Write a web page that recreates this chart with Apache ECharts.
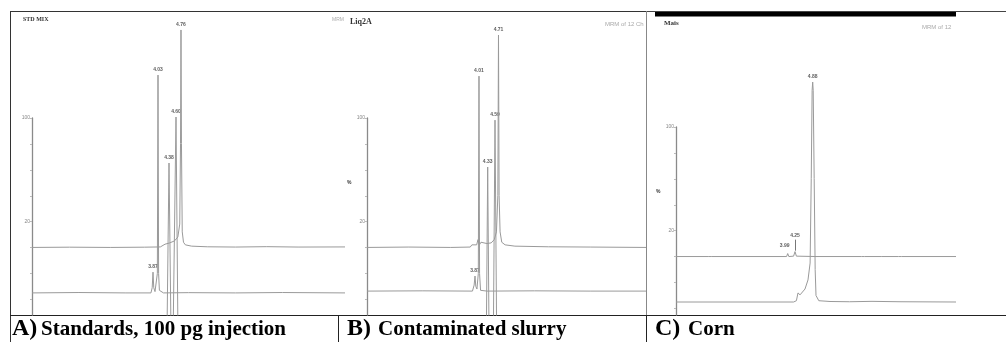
<!DOCTYPE html>
<html>
<head>
<meta charset="utf-8">
<script src="https://cdn.jsdelivr.net/npm/echarts@6/dist/echarts.min.js"></script>
<style>
  html, body { margin: 0; padding: 0; background: #fff; }
  #main { width: 1006px; height: 342px; }
</style>
</head>
<body>
<div id="main"></div>
<script>
// retention time (min) vs relative intensity (%), overlaid traces are offset
// A) STD MIX
var stdUpper = [[0, 0], [1.2, 0.2], [2.5, 0], [3.6, 0.2], [4.1, 0.4], [4.25, 2.5], [4.4, 3.5], [4.55, 5], [4.66, 8],
  [4.72, 18], [4.745, 80], [4.76, 167.4], [4.775, 80], [4.8, 12], [4.84, 4], [4.9, 2], [5.1, 1], [5.6, 0.5],
  [6.5, 0.3], [7.5, 0.6], [8.5, 0.3], [10, 0.4]];
var stdLower = [[0, -35], [1.5, -34.7], [3, -35], [3.8, -35], [3.84, -31], [3.866, -19], [3.89, -31], [3.93, -34],
  [3.98, -33], [4.005, -20], [4.026, 132.7], [4.045, -20], [4.07, -33], [4.2, -35], [5, -34.8], [6.5, -35],
  [8, -34.7], [10, -35]];
var stdThird = [[4, -130], [4.281, -130], [4.377, 65], [4.473, -130], [4.515, -130], [4.601, 100.4], [4.687, -130], [5, -130]];
var stdPeaks = [[4.76, 167.4], [4.026, 132.7], [4.601, 100.4], [4.377, 65], [3.866, -19]];

// B) Liq2A
var liqUpper = [[0, 0], [1.5, 0.3], [3, 0], [3.7, 0.3], [3.76, 2], [3.82, 0.5], [3.93, 2], [3.978, 6], [4.03, 2],
  [4.086, 4], [4.15, 2.5], [4.3, 3], [4.45, 3.5], [4.56, 6], [4.64, 12], [4.69, 40], [4.713, 163.5], [4.735, 40],
  [4.77, 12], [4.83, 4], [4.95, 2], [5.3, 1], [6.5, 0.5], [8, 0.3], [10, 0]];
var liqLower = [[0, -33.6], [2, -33.4], [3.78, -33.6], [3.84, -29], [3.871, -22], [3.9, -30], [3.94, -32], [3.99, -20],
  [4.014, 131.9], [4.035, -20], [4.07, -33], [4.3, -33.6], [6, -33.4], [8, -33.6], [10, -33.6]];
var liqThird = [[4, -130], [4.254, -130], [4.326, 61.9], [4.398, -130], [4.506, -130], [4.588, 98], [4.67, -130], [5, -130]];
var liqPeaks = [[4.713, 163.5], [4.014, 131.9], [4.588, 98], [4.326, 61.9], [3.871, -22]];

// C) Mais
var maisUpper = [[0, 0], [1.15, 0], [1.214, 1.5], [1.28, 0], [3, 0], [3.95, 0], [3.989, 2.3], [4.03, 0], [4.2, 0.3],
  [4.25, 3.8], [4.3, 0.3], [5, 0], [6.62, 0], [6.68, 1.2], [6.74, 0], [7.25, 0], [7.29, 1], [7.35, 0], [7.95, 0],
  [8, 0.8], [8.06, 0], [10, 0]];
var maisLower = [[0, -35], [2, -35], [4.2, -35], [4.3, -34], [4.357, -28], [4.43, -29.5], [4.5, -30.5], [4.607, -25],
  [4.714, -18], [4.79, -5], [4.83, 60], [4.862, 128], [4.882, 134.3], [4.9, 128], [4.935, 60], [4.97, -10],
  [5.0, -30], [5.1, -34], [5.5, -34.6], [6.2, -34.8], [7, -34.5], [8, -34.8], [10, -35]];
var maisPeaks = [[4.882, 134.3], [3.989, 2.3], [4.25, 3.8]];

var axisTicks = [-40, -20, 0, 20, 40, 60, 80, 100];
var axisLabels = [20, 100];

var panelTitles = ['STD MIX', 'Liq2A', 'Mais'];
var captionLetters = ['A)', 'B)', 'C)'];
var captionTexts = ['Standards, 100 pg injection', 'Contaminated slurry', 'Corn'];

var chart = echarts.init(document.getElementById('main'), null, { renderer: 'canvas' });

var traceColor = '#9a9a9a';
var serif = '"Liberation Serif", "DejaVu Serif", serif';
var sans = '"Liberation Sans", Arial, sans-serif';

function dataX(i) {
  return { gridIndex: i, type: 'value', min: 0, max: 10, show: false };
}
function dataY(i, min, max) {
  return { gridIndex: i, type: 'value', min: min, max: max, show: false };
}
function axisY(i, min) {
  return {
    gridIndex: i, type: 'value', min: min, max: 100,
    splitLine: { show: false },
    axisLine: { show: true, lineStyle: { color: '#8a8a8a', width: 1.3 } },
    axisTick: { show: true, length: 2, customValues: axisTicks, lineStyle: { color: '#bbb' } },
    axisLabel: { show: true, customValues: axisLabels, fontSize: 5, color: '#888', margin: 2, fontFamily: sans }
  };
}
function trace(i, data) {
  return {
    type: 'line', xAxisIndex: i, yAxisIndex: i, data: data,
    showSymbol: false, symbol: 'none', clip: true, animation: false,
    lineStyle: { color: traceColor, width: 1 }
  };
}
function peakLabels(i, data) {
  return {
    type: 'scatter', xAxisIndex: i, yAxisIndex: i, data: data,
    symbol: 'circle', symbolSize: 0, animation: false, silent: true,
    label: {
      show: true, position: 'top', distance: 3, fontSize: 5, fontWeight: 'bold',
      color: '#333', fontFamily: sans,
      formatter: function (p) { return p.value[0].toFixed(2); }
    }
  };
}

// corn: the two small peaks are labelled at different heights, the second one with a leader line
var mais = peakLabels(2, maisPeaks.map(function (p, idx) {
  if (idx === 2) return { value: p, label: { distance: 13 } };
  if (idx === 1) return { value: p, label: { distance: 5, offset: [-3, 0] } };
  return p;
}));
var maisUpperSeries = trace(2, maisUpper);
maisUpperSeries.markLine = {
  silent: true, symbol: 'none', animation: false,
  label: { show: false },
  lineStyle: { color: '#777', width: 1, type: 'solid' },
  data: [[{ coord: [4.25, 4.5] }, { coord: [4.25, 13] }]]
};

var option = {
  backgroundColor: '#fff',
  animation: false,
  grid: [
    { left: 32, top: 11, width: 313, height: 304 },
    { left: 367, top: 11, width: 279, height: 304 },
    { left: 676, top: 11, width: 280, height: 304 },
    // y axes drawn in their own grids so they only run up to 100 %
    { left: 32, top: 118, width: 10, height: 197 },
    { left: 367, top: 118, width: 10, height: 197 },
    { left: 676, top: 127, width: 10, height: 188 }
  ],
  xAxis: [dataX(0), dataX(1), dataX(2), dataX(3), dataX(4), dataX(5)],
  yAxis: [dataY(0, -52, 182), dataY(1, -52, 182), dataY(2, -45, 189),
    axisY(3, -52), axisY(4, -52), axisY(5, -45)],
  series: [
    trace(0, stdUpper), trace(0, stdLower), trace(0, stdThird), peakLabels(0, stdPeaks),
    trace(1, liqUpper), trace(1, liqLower), trace(1, liqThird), peakLabels(1, liqPeaks),
    maisUpperSeries, trace(2, maisLower), mais
  ],
  graphic: [
    // frame
    { type: 'line', shape: { x1: 10, y1: 11.5, x2: 646, y2: 11.5 }, style: { stroke: '#333', lineWidth: 1 } },
    { type: 'line', shape: { x1: 646, y1: 11.5, x2: 1006, y2: 11.5 }, style: { stroke: '#444', lineWidth: 1 } },
    { type: 'rect', shape: { x: 655, y: 12, width: 301, height: 4.5 }, style: { fill: '#000' } },
    { type: 'line', shape: { x1: 10.5, y1: 11, x2: 10.5, y2: 342 }, style: { stroke: '#333', lineWidth: 1 } },
    { type: 'line', shape: { x1: 646.5, y1: 11, x2: 646.5, y2: 315 }, style: { stroke: '#888', lineWidth: 1 } },
    { type: 'line', shape: { x1: 10, y1: 315.5, x2: 1006, y2: 315.5 }, style: { stroke: '#222', lineWidth: 1.2 } },
    { type: 'line', shape: { x1: 338.5, y1: 315, x2: 338.5, y2: 342 }, style: { stroke: '#222', lineWidth: 1 } },
    { type: 'line', shape: { x1: 646.5, y1: 315, x2: 646.5, y2: 342 }, style: { stroke: '#222', lineWidth: 1 } },
    // panel headers
    { type: 'text', style: { x: 23, y: 19, text: panelTitles[0], font: 'bold 6px ' + serif, fill: '#333', verticalAlign: 'middle' } },
    { type: 'text', style: { x: 332, y: 20, text: 'MRM', font: '5px ' + sans, fill: '#aaa', verticalAlign: 'middle' } },
    { type: 'text', style: { x: 350, y: 22, text: panelTitles[1], font: 'bold 8px ' + serif, fill: '#333', verticalAlign: 'middle' } },
    { type: 'text', style: { x: 605, y: 24, text: 'MRM of 12 Ch', font: '6px ' + sans, fill: '#aaa', verticalAlign: 'middle' } },
    { type: 'text', style: { x: 664, y: 23, text: panelTitles[2], font: 'bold 7px ' + serif, fill: '#333', verticalAlign: 'middle' } },
    { type: 'text', style: { x: 922, y: 27, text: 'MRM of 12', font: '6px ' + sans, fill: '#aaa', verticalAlign: 'middle' } },
    { type: 'text', style: { x: 347, y: 183, text: '%', font: 'bold 5px ' + sans, fill: '#333', verticalAlign: 'middle' } },
    { type: 'text', style: { x: 656, y: 192, text: '%', font: 'bold 5px ' + sans, fill: '#333', verticalAlign: 'middle' } },
    // captions
    { type: 'text', style: { x: 12, y: 329, text: captionLetters[0], font: 'bold 24px ' + serif, fill: '#000', verticalAlign: 'middle' } },
    { type: 'text', style: { x: 41, y: 330, text: captionTexts[0], font: 'bold 21px ' + serif, fill: '#000', verticalAlign: 'middle' } },
    { type: 'text', style: { x: 347, y: 329, text: captionLetters[1], font: 'bold 24px ' + serif, fill: '#000', verticalAlign: 'middle' } },
    { type: 'text', style: { x: 378, y: 330, text: captionTexts[1], font: 'bold 21px ' + serif, fill: '#000', verticalAlign: 'middle' } },
    { type: 'text', style: { x: 655, y: 329, text: captionLetters[2], font: 'bold 24px ' + serif, fill: '#000', verticalAlign: 'middle' } },
    { type: 'text', style: { x: 688, y: 330, text: captionTexts[2], font: 'bold 21px ' + serif, fill: '#000', verticalAlign: 'middle' } }
  ]
};
chart.setOption(option);
</script>
</body>
</html>
